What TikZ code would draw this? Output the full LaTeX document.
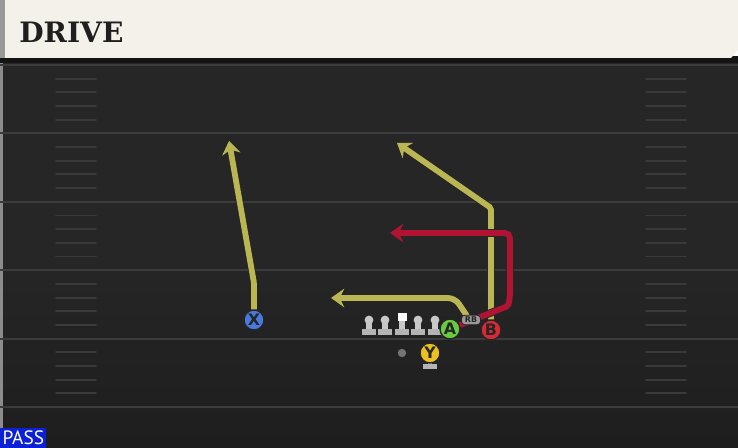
\documentclass[tikz,border=0pt]{standalone}
\usepackage{fontspec}
\setmainfont{DejaVu Sans}
\newfontfamily\slabfont{DejaVu Serif}
\newfontfamily\passfont{PT Sans}
\usetikzlibrary{arrows.meta,positioning}
\definecolor{turf}{RGB}{38,38,38}
\definecolor{turfdark}{RGB}{30,30,30}
\definecolor{yardline}{RGB}{60,60,60}
\definecolor{hashmark}{RGB}{58,58,58}
\definecolor{cream}{RGB}{244,241,234}
\definecolor{routeyellow}{RGB}{186,182,84}
\definecolor{routered}{RGB}{176,20,50}
\definecolor{xblue}{RGB}{72,122,222}
\definecolor{agreen}{RGB}{104,204,62}
\definecolor{bred}{RGB}{216,42,52}
\definecolor{yyellow}{RGB}{236,192,32}
\definecolor{passblue}{RGB}{12,32,214}
\definecolor{olgray}{RGB}{200,200,200}
\tikzset{
  player/.style={
    circle,
    draw=black!85, line width=0.8pt,
    minimum size=0.4cm, inner sep=0pt,
    font=\bfseries\fontsize{9}{9}\selectfont,
    text=black!85
  },
  route/.style={
    draw=routeyellow, line width=3.3pt,
    rounded corners=1pt,
    preaction={draw=black!85, line width=4.3pt, -, shorten >=6pt},
    -{Stealth[length=7.5pt,width=10.5pt,inset=2.5pt]}
  },
  tag/.style={
    rectangle, rounded corners=1.8pt,
    fill=black!40, draw=black!85, line width=0.5pt,
    minimum width=0.38cm, minimum height=0.19cm, inner sep=0pt,
    font=\bfseries\fontsize{4.5}{5}\selectfont, text=black!85
  },
  pics/lineman/.style={code={
    \fill[olgray] (0,0) circle (2.5pt);
    \fill[olgray] (-2.6,1) rectangle (2.6,10);
    \fill[olgray!90!black] (-7,9.5) rectangle (7,15);
  }},
  pics/snapper/.style={code={
    \fill[white] (-4.5,-6.5) rectangle (4.5,1.5);
    \fill[olgray] (-2.6,1) rectangle (2.6,10);
    \fill[olgray!90!black] (-7,9.5) rectangle (7,15);
  }},
}
\begin{document}
\begin{tikzpicture}[x=0.02cm,y=-0.02cm]
  \useasboundingbox (0,0) rectangle (738,448);

  % field
  \shade[top color=turf, bottom color=turfdark, middle color=turf]
    (0,62) rectangle (738,448);
  \fill[black!45] (0,62) rectangle (3,448);
  \foreach \yl in {65,133.4,201.8,270.2,338.6,407}
    \draw[yardline, line width=1.1pt] (0,\yl) -- (738,\yl);
  \foreach \yl in {65,133.4,201.8,270.2,338.6}
    \foreach \k in {1,2,3,4} {
      \draw[hashmark, line width=1.1pt, line cap=round]
        (56,\yl+13.68*\k) -- (96,\yl+13.68*\k);
      \draw[hashmark, line width=1.1pt, line cap=round]
        (646,\yl+13.68*\k) -- (686,\yl+13.68*\k);
    }

  % header
  \fill[black!92] (0,56) rectangle (738,63);
  \fill[cream] (0,0) -- (738,0) -- (738,50) -- (731,58) -- (0,58) -- cycle;
  \fill[black!40] (0,0) rectangle (5,58);
  \node[anchor=west, inner sep=0pt, font=\slabfont\bfseries\fontsize{16}{16}\selectfont,
    text=black!88] (title) at (19,32) {DRIVE};

  % line and backs
  \foreach \lx in {369,385,418,435}
    \pic at (\lx,320) {lineman};
  \pic at (402,320) {snapper};
  \fill[black!55] (402,353) circle (2.4pt);
  \fill[olgray!90!black] (428,359) rectangle (432,365);
  \fill[olgray!90!black] (423,364) rectangle (437,369);

  \node[player, fill=xblue] (X) at (254,320) {X};
  \node[player, fill=agreen] (A) at (450,329) {A};
  \node[player, fill=bred] (B) at (491,330) {B};
  \node[player, fill=yyellow] (Y) at (430,353) {Y};
  \coordinate (rbtail) at (467,316);

  % routes
  \draw[route] (X) -- (254,283) -- (229,141);
  \draw[route] (B) -- (491,208) -- (397,143);
  \draw[route, rounded corners=4pt] (rbtail) -- (455,298) -- (331,298);
  \draw[route, draw=routered] (A) -- (508,306) [rounded corners=3pt] -- (510,298) -- (510,233) -- (390,233);

  \node[tag] (rb) at (471,320) {RB};

  % play type
  \node[fill=passblue, text=white, anchor=south west, minimum width=0.92cm,
    minimum height=0.4cm, inner sep=0pt, font=\passfont\fontsize{11}{11}\selectfont]
    (pass) at (0,448) {PASS};
\end{tikzpicture}
\end{document}
